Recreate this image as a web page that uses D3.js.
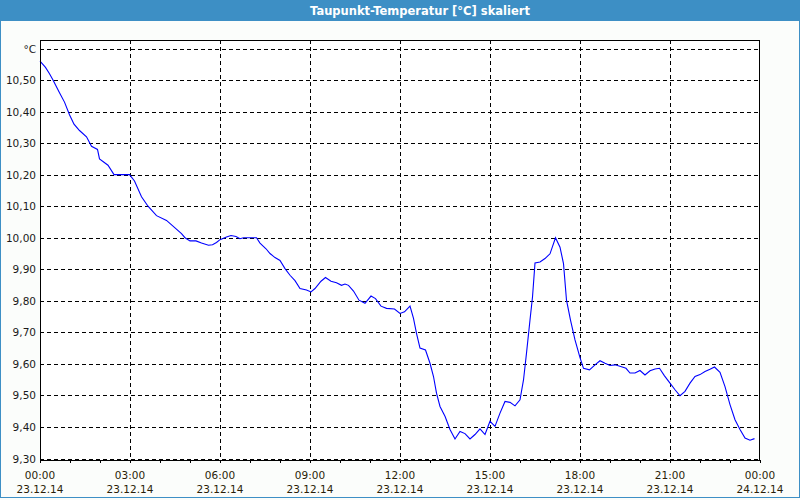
<!DOCTYPE html>
<html><head><meta charset="utf-8">
<script src="https://cdn.jsdelivr.net/npm/d3@7"></script>
<style>
html,body{margin:0;padding:0;background:#fff;}
svg{display:block;}
text{font-family:"DejaVu Sans",Tahoma,sans-serif;}
</style></head>
<body>
<svg id="c" width="800" height="500"></svg>
<script>
const title = "Taupunkt-Temperatur [°C] skaliert";
// minutes since 23.12.14 00:00
const minutes = [0,11,19,26,39,49,59,68,79,93,103,115,119,136,148,179,189,203,216,233,253,283,290,300,312,323,337,345,353,360,373,382,392,400,407,433,440,452,460,470,480,490,500,510,520,533,542,550,562,571,582,593,603,610,617,627,638,650,662,671,682,693,709,720,729,740,747,753,760,771,780,787,793,800,810,820,830,840,850,860,870,880,890,900,910,920,930,940,950,960,967,973,980,985,990,1000,1010,1020,1031,1040,1047,1053,1061,1070,1080,1087,1099,1110,1120,1130,1140,1150,1163,1172,1180,1190,1200,1210,1220,1230,1239,1249,1260,1270,1280,1290,1300,1310,1320,1330,1340,1349,1360,1370,1380,1390,1400,1410,1420,1429];
const values = [10.56,10.54,10.52,10.50,10.46,10.43,10.39,10.36,10.34,10.32,10.29,10.28,10.25,10.23,10.20,10.20,10.18,10.13,10.10,10.07,10.055,10.013,10.00,9.99,9.99,9.983,9.976,9.978,9.985,9.994,10.002,10.007,10.004,9.997,10.00,10.00,9.983,9.965,9.95,9.937,9.928,9.902,9.881,9.864,9.839,9.834,9.828,9.839,9.862,9.874,9.862,9.857,9.849,9.853,9.849,9.831,9.802,9.792,9.815,9.807,9.783,9.776,9.774,9.76,9.765,9.783,9.744,9.697,9.65,9.644,9.602,9.56,9.507,9.465,9.434,9.392,9.362,9.386,9.379,9.362,9.376,9.394,9.376,9.418,9.402,9.444,9.481,9.478,9.467,9.486,9.549,9.634,9.739,9.812,9.92,9.923,9.934,9.949,10.00,9.97,9.918,9.802,9.739,9.676,9.62,9.586,9.581,9.597,9.61,9.602,9.595,9.597,9.591,9.586,9.571,9.571,9.579,9.565,9.578,9.584,9.586,9.562,9.539,9.518,9.499,9.513,9.539,9.56,9.566,9.576,9.583,9.59,9.573,9.528,9.471,9.423,9.392,9.365,9.358,9.363];
const yTicks = [9.30,9.40,9.50,9.60,9.70,9.80,9.90,10.00,10.10,10.20,10.30,10.40,10.50,10.60];
const yTopLabel = "°C";
const xTickHours = [0,3,6,9,12,15,18,21,24];
const xTimeLabels = ["00:00","03:00","06:00","09:00","12:00","15:00","18:00","21:00","00:00"];
const xDateLabels = ["23.12.14","23.12.14","23.12.14","23.12.14","23.12.14","23.12.14","23.12.14","23.12.14","24.12.14"];
const xMinorHours = d3.range(0,25);

const svg = d3.select("#c");
const W = 800, H = 500;
const blue = "#3d8fc5";

// window background and frame
svg.append("rect").attr("x",0).attr("y",0).attr("width",W).attr("height",H).attr("fill","#fbfdfb");
svg.append("rect").attr("x",0.5).attr("y",0.5).attr("width",W-1).attr("height",H-3).attr("fill","none").attr("stroke",blue).attr("stroke-width",1);
svg.append("rect").attr("x",0).attr("y",0).attr("width",W).attr("height",21).attr("fill",blue);
svg.append("text").attr("x",420).attr("y",14.5).attr("text-anchor","middle")
  .attr("fill","#fff").attr("font-weight","bold").attr("font-size","11.5px")
  .attr("font-family","'DejaVu Sans Condensed','DejaVu Sans',sans-serif").text(title);

const L = 40, R = 760, T = 40, B = 460;
const x = d3.scaleLinear().domain([0,24*60]).range([L,R]);
const y = d3.scaleLinear().domain([9.30,10.60]).range([458.5,48.5]);

svg.append("rect").attr("x",L).attr("y",T).attr("width",R-L).attr("height",B-T).attr("fill","#fff");

// grid
const g = svg.append("g").attr("shape-rendering","crispEdges");
g.selectAll("line.h").data(yTicks).join("line")
  .attr("x1",L).attr("x2",R).attr("y1",d=>Math.round(y(d))+0.5).attr("y2",d=>Math.round(y(d))+0.5)
  .attr("stroke","#000").attr("stroke-dasharray","4,3");
g.selectAll("line.v").data(xTickHours.filter(h=>h>0&&h<24)).join("line")
  .attr("x1",d=>Math.round(x(d*60))+0.5).attr("x2",d=>Math.round(x(d*60))+0.5).attr("y1",T).attr("y2",B)
  .attr("stroke","#000").attr("stroke-dasharray","4,3");

// minor ticks
g.selectAll("line.t").data(xMinorHours).join("line")
  .attr("x1",d=>Math.round(x(d*60))+0.5).attr("x2",d=>Math.round(x(d*60))+0.5).attr("y1",B).attr("y2",B+3)
  .attr("stroke","#000");

// data line
const line = d3.line().x((d,i)=>x(minutes[i])).y(d=>y(d));
svg.append("path").datum(values).attr("d",line).attr("fill","none").attr("stroke","#0000ff").attr("stroke-width",1.1);

// frame
svg.append("rect").attr("x",L+0.5).attr("y",T+0.5).attr("width",R-L-1).attr("height",B-T).attr("fill","none")
  .attr("stroke","#000").attr("shape-rendering","crispEdges");

// y labels
const fmt = d3.format(".2f");
svg.selectAll("text.yl").data(yTicks).join("text")
  .attr("x",36).attr("y",d=>y(d)+4).attr("text-anchor","end").attr("font-size","10.5px").attr("fill","#1a1a1a")
  .text((d,i)=> i===yTicks.length-1 ? yTopLabel : fmt(d).replace(".",","));

// x labels
svg.selectAll("text.xt").data(xTickHours).join("text")
  .attr("x",d=>x(d*60)).attr("y",479).attr("text-anchor","middle").attr("font-size","10.5px").attr("fill","#2a1d08")
  .text((d,i)=>xTimeLabels[i]);
svg.selectAll("text.xd").data(xTickHours).join("text")
  .attr("x",d=>x(d*60)).attr("y",493).attr("text-anchor","middle").attr("font-size","10.5px").attr("fill","#2a1d08")
  .text((d,i)=>xDateLabels[i]);
</script>
</body></html>
